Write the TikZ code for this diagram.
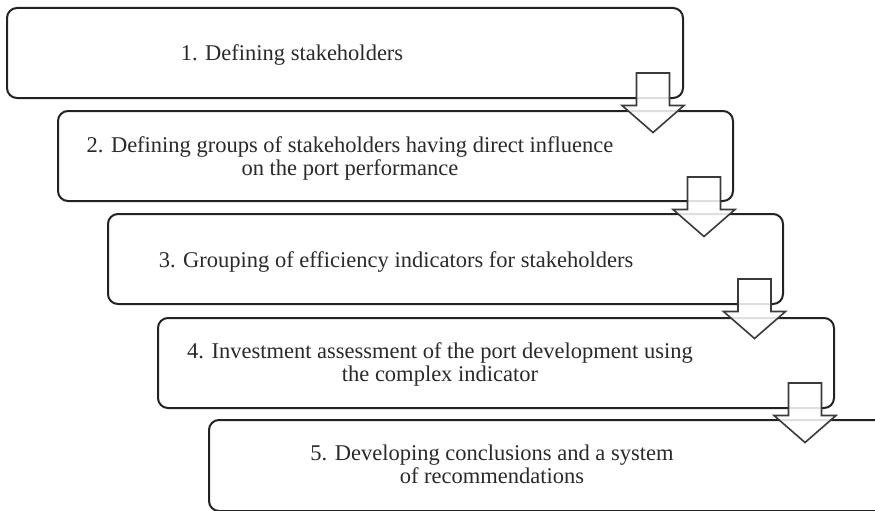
\documentclass[tikz,border=0pt]{standalone}
\usepackage{fontspec}
\setmainfont{Liberation Serif}
\definecolor{boxline}{HTML}{222222}
\definecolor{arrline}{HTML}{3A3A3A}
\definecolor{txt}{HTML}{2A2A2A}
\begin{document}
\begin{tikzpicture}[x=1pt,y=-1pt,
  stepbox/.style={draw=boxline,line width=2pt,rounded corners=10pt,fill=white},
  steptext/.style={text=txt,align=center,anchor=base,inner sep=0pt,
    font=\fontsize{22.5}{23}\selectfont},
  blockarrow/.style={draw=arrline,line width=1.6pt,fill=white,fill opacity=0.85,line join=miter}]
\useasboundingbox (0,0) rectangle (875,511);
\begin{scope}
\clip (0,0) rectangle (875,511);
% boxes
\draw[stepbox] (7,8) rectangle (683,98);
\draw[stepbox] (58,111) rectangle (733,201);
\draw[stepbox] (108,214) rectangle (783,304);
\draw[stepbox] (158,318) rectangle (834,408);
\draw[stepbox] (209,420) rectangle (886,511);
% texts (anchor = baseline of last line)
\node[steptext] (t1) at (292,60) {1. Defining stakeholders};
\node[steptext] (t2) at (350,175) {2. Defining groups of stakeholders having direct influence\\on the port performance};
\node[steptext] (t3) at (396,267) {3. Grouping of efficiency indicators for stakeholders};
\node[steptext] (t4) at (440,381) {4. Investment assessment of the port development using\\the complex indicator};
\node[steptext] (t5) at (492,483) {5. Developing conclusions and a system\\of recommendations};
% block arrows
\foreach \cx/\ty in {653/73, 704/177, 754.5/279, 805/383}{
  \draw[blockarrow] (\cx-16.5,\ty) -- (\cx+16.5,\ty) -- (\cx+16.5,\ty+32.5)
    -- (\cx+31,\ty+32.5) -- (\cx,\ty+59.5) -- (\cx-31,\ty+32.5)
    -- (\cx-16.5,\ty+32.5) -- cycle;
}
\end{scope}
\end{tikzpicture}
\end{document}
